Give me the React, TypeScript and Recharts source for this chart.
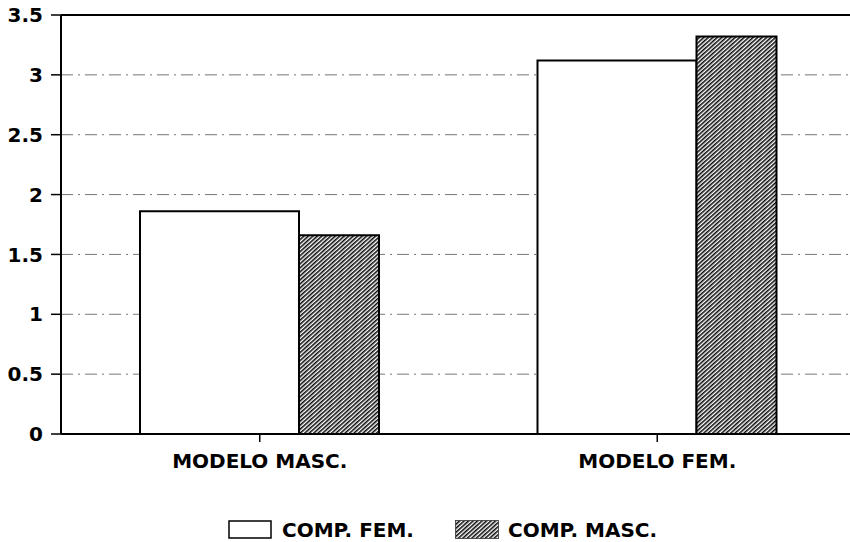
import { BarChart, Bar, XAxis, YAxis, CartesianGrid, ReferenceLine, Legend } from "recharts";

const categories = ["MODELO MASC.", "MODELO FEM."];
const compFem = [1.86, 3.12];
const compMasc = [1.66, 3.32];
const yTicks = [0, 0.5, 1, 1.5, 2, 2.5, 3, 3.5];
const seriesNames = { fem: "COMP. FEM.", masc: "COMP. MASC." };

const data = categories.map((name, i) => ({ name, fem: compFem[i], masc: compMasc[i] }));

const FONT = "'DejaVu Sans', sans-serif";

function HatchPattern({ id }: { id: string }) {
  return (
    <pattern id={id} width="3" height="3" patternUnits="userSpaceOnUse" patternTransform="rotate(48)">
      <rect width="3" height="3" fill="#fff" />
      <line x1="0.8" y1="0" x2="0.8" y2="3" stroke="#000" strokeWidth="1.5" />
    </pattern>
  );
}

function LegendBox() {
  return (
    <div
      style={{
        height: 48,
        boxSizing: "border-box",
        paddingTop: 23,
        paddingLeft: 228,
        display: "flex",
        alignItems: "center",
        fontFamily: FONT,
        fontWeight: "bold",
        fontSize: 20,
        color: "#000",
      }}
    >
      <svg width={44} height={19} style={{ display: "block" }}>
        <rect x={1} y={1} width={42} height={17} fill="#fff" stroke="#000" strokeWidth={1.5} />
      </svg>
      <span style={{ marginLeft: 10, lineHeight: "20px" }}>{seriesNames.fem}</span>
      <svg width={44} height={19} style={{ display: "block", marginLeft: 41 }}>
        <defs>
          <HatchPattern id="hatchLegend" />
        </defs>
        <rect x={0.5} y={0.5} width={43} height={18} fill="url(#hatchLegend)" stroke="#333" strokeWidth={0.8} />
      </svg>
      <span style={{ marginLeft: 9, lineHeight: "20px" }}>{seriesNames.masc}</span>
    </div>
  );
}

export default function App() {
  return (
    <div style={{ position: "absolute", left: 0, top: 0, width: 850, height: 542, overflow: "hidden", background: "#fff" }}>
      <BarChart width={856} height={542} data={data} margin={{ top: 15, right: 0, bottom: 0, left: 0 }} barGap={0}>
        <defs>
          <HatchPattern id="hatch" />
        </defs>
        <CartesianGrid vertical={false} stroke="#666" strokeWidth={0.9} strokeDasharray="12 5 2 5" />
        <XAxis
          dataKey="name"
          height={60}
          axisLine={{ stroke: "#000", strokeWidth: 2 }}
          tickLine={{ stroke: "#000", strokeWidth: 1.5 }}
          tickSize={8}
          tickMargin={12}
          tick={{ fill: "#000", fontSize: 20, fontWeight: "bold", fontFamily: FONT }}
        />
        <YAxis
          width={61}
          domain={[0, 3.5]}
          ticks={yTicks}
          interval={0}
          axisLine={{ stroke: "#000", strokeWidth: 2 }}
          tickLine={{ stroke: "#000", strokeWidth: 1.5 }}
          tickSize={10}
          tickMargin={8}
          tick={{ fill: "#000", fontSize: 20, fontWeight: "bold", fontFamily: FONT }}
        />
        <ReferenceLine y={3.5} stroke="#000" strokeWidth={2} />
        <Legend verticalAlign="bottom" content={() => <LegendBox />} />
        <Bar dataKey="fem" name={seriesNames.fem} barSize={159} fill="#fff" stroke="#000" strokeWidth={2} isAnimationActive={false} />
        <Bar dataKey="masc" name={seriesNames.masc} barSize={80} fill="url(#hatch)" stroke="#000" strokeWidth={2} isAnimationActive={false} />
      </BarChart>
    </div>
  );
}
